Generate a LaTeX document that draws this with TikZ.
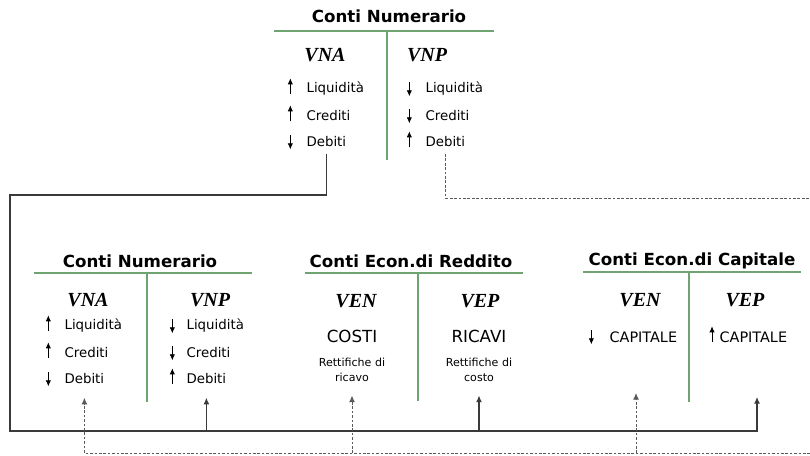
\documentclass[tikz,border=0pt]{standalone}
\usepackage{fontspec}
\setmainfont{DejaVu Sans}
\newfontfamily\headfont{Liberation Serif}
\usetikzlibrary{arrows.meta,positioning,calc}
\definecolor{Rule}{HTML}{6FA36F}
\definecolor{Wire}{HTML}{3A3A3A}
\definecolor{Dash}{HTML}{5A5A5A}

% small arrows in front of an entry
\newcommand{\uparr}[2][11pt]{\draw[-{Latex[length=4.5pt,width=4pt]},line width=0.6pt] ([xshift=-#1,yshift=-4pt]#2.west) -- ++(0,12pt);}
\newcommand{\dnarr}[2][11pt]{\draw[-{Latex[length=4.5pt,width=4pt]},line width=0.6pt] ([xshift=-#1,yshift=5pt]#2.west) -- ++(0,-10.5pt);}

\begin{document}
\begin{tikzpicture}[x=0.75pt,y=-0.75pt,
    every node/.style={inner sep=1pt},
    ttl/.style={font=\bfseries\fontsize{12.5}{14}\selectfont},
    colhead/.style={font=\headfont\bfseries\itshape\fontsize{15}{17}\selectfont},
    entry/.style={anchor=west,font=\fontsize{10}{12}\selectfont},
    caps/.style={font=\fontsize{12.5}{14}\selectfont},
    remark/.style={align=center,font=\fontsize{8.3}{11.5}\selectfont},
    tline/.style={Rule,line width=1.1pt},
    wire/.style={Wire,line width=0.8pt},
    dwire/.style={Dash,line width=0.7pt,dash pattern=on 2pt off 1.3pt},
    arrowtip/.style={-{Latex[length=5pt,width=4.5pt]}}]
  \useasboundingbox (0,0) rectangle (810,456);

  % top: Conti Numerario
  \node[ttl] (top) at (389,16) {Conti Numerario};
  \draw[tline] (274,31) -- (494,31) (387,31) -- (387,160);
  \node[colhead] (tna) at (325,55) {VNA};
  \node[colhead] (tnp) at (427,55) {VNP};
  \node[entry] (tna1) at (305,89) {Liquidità};
  \node[entry] (tna2) at (305,116) {Crediti};
  \node[entry] (tna3) at (305,142) {Debiti};
  \node[entry] (tnp1) at (424,89) {Liquidità};
  \node[entry] (tnp2) at (424,116) {Crediti};
  \node[entry] (tnp3) at (424,142) {Debiti};
  \uparr{tna1} \uparr{tna2} \dnarr{tna3}
  \dnarr{tnp1} \dnarr{tnp2} \uparr{tnp3}

  % bottom left: Conti Numerario
  \node[ttl] (num) at (140,261) {Conti Numerario};
  \draw[tline] (34,273) -- (252,273) (147,273) -- (147,402);
  \node[colhead] (bna) at (88,300) {VNA};
  \node[colhead] (bnp) at (210,300) {VNP};
  \node[entry] (bna1) at (63,326) {Liquidità};
  \node[entry] (bna2) at (63,353) {Crediti};
  \node[entry] (bna3) at (63,379) {Debiti};
  \node[entry] (bnp1) at (185,326) {Liquidità};
  \node[entry] (bnp2) at (185,353) {Crediti};
  \node[entry] (bnp3) at (185,379) {Debiti};
  \uparr{bna1} \uparr{bna2} \dnarr{bna3}
  \dnarr[9.5pt]{bnp1} \dnarr[9.5pt]{bnp2} \uparr[9.5pt]{bnp3}

  % bottom middle: Conti Econ. di Reddito
  \node[ttl] (red) at (411,261) {Conti Econ.di Reddito};
  \draw[tline] (305,273) -- (523,273) (418,273) -- (418,401);
  \node[colhead] (rven) at (356,301) {VEN};
  \node[colhead] (rvep) at (480,301) {VEP};
  \node[caps] (costi) at (352,336) {COSTI};
  \node[caps] (ricavi) at (479,336) {RICAVI};
  \node[remark] (rcosti) at (352,370) {Rettifiche di\\ricavo};
  \node[remark] (rricavi) at (479,370) {Rettifiche di\\costo};

  % bottom right: Conti Econ. di Capitale
  \node[ttl] (cap) at (692,261) {Conti Econ.di Capitale};
  \draw[tline] (583,272) -- (801,272) (689,272) -- (689,402);
  \node[colhead] (cven) at (640,300) {VEN};
  \node[colhead] (cvep) at (745,300) {VEP};
  \node[entry,font=\fontsize{10.8}{13}\selectfont] (capn) at (608,337) {CAPITALE};
  \node[entry,font=\fontsize{10.8}{13}\selectfont] (capp) at (718,337) {CAPITALE};
  \dnarr[12.5pt]{capn} \uparr[4.5pt]{capp}

  % connectors
  \coordinate (nw) at (10,195);
  \coordinate (sw) at (10,431);
  \coordinate (se) at (757,431);
  \coordinate (capvep) at (757,397);
  \coordinate (capven) at (636,393);
  \coordinate (outA) at (810,198);
  \coordinate (outB) at (810,453);

  \draw[wire,arrowtip] ([yshift=-4pt]tna3.south) |- (nw) -- (sw) -- (se) -- (capvep);
  \draw[wire,arrowtip] (bnp3.south |- sw) -- ([yshift=-9pt]bnp3.south);
  \draw[wire,arrowtip] (rricavi.south |- sw) -- ([yshift=-9pt]rricavi.south);

  \draw[dwire] ([yshift=-4pt]tnp3.south) |- (outA);
  \draw[dwire,arrowtip] (outB) -| ([yshift=-9pt]bna3.south);
  \draw[dwire,arrowtip] (rcosti.south |- outB) -- ([yshift=-9pt]rcosti.south);
  \draw[dwire,arrowtip] (capven |- outB) -- (capven);
\end{tikzpicture}
\end{document}
